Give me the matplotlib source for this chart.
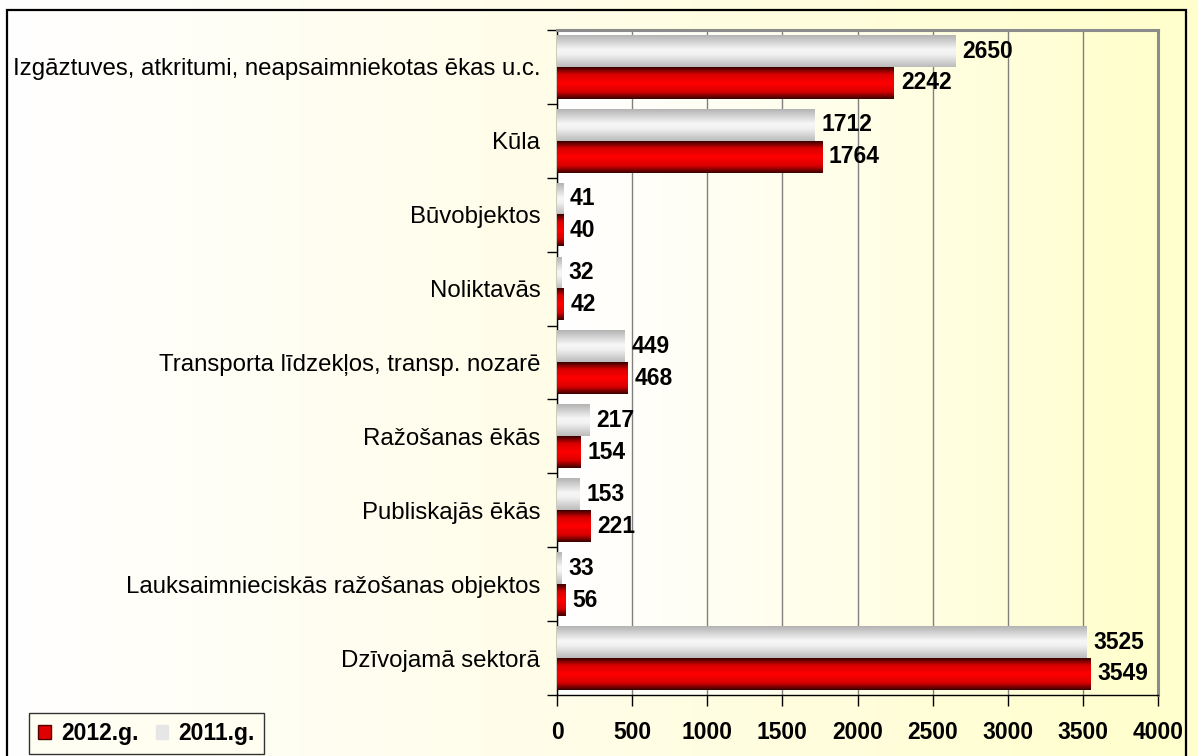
import matplotlib
matplotlib.use("Agg")
import matplotlib.pyplot as plt
import numpy as np
from matplotlib.colors import LinearSegmentedColormap
from matplotlib.patches import Rectangle, Patch

categories = [
    "Izgāztuves, atkritumi, neapsaimniekotas ēkas u.c.",
    "Kūla",
    "Būvobjektos",
    "Noliktavās",
    "Transporta līdzekļos, transp. nozarē",
    "Ražošanas ēkās",
    "Publiskajās ēkās",
    "Lauksaimnieciskās ražošanas objektos",
    "Dzīvojamā sektorā",
]
values_2011 = [2650, 1712, 41, 32, 449, 217, 153, 33, 3525]
values_2012 = [2242, 1764, 40, 42, 468, 154, 221, 56, 3549]
xticks = [0, 500, 1000, 1500, 2000, 2500, 3000, 3500, 4000]
series_names = ["2012.g.", "2011.g."]

plt.rcParams['font.family'] = ['Liberation Sans', 'DejaVu Sans']

W, H = 1198, 756
fig = plt.figure(figsize=(W / 100, H / 100), dpi=100)

# figure background gradient
bg = fig.add_axes([0, 0, 1, 1], zorder=-10)
bg_cmap = LinearSegmentedColormap.from_list("bg", ["#ffffff", "#fffde6", "#ffffcc"])
bg.imshow(np.linspace(0, 1, 256).reshape(1, -1), cmap=bg_cmap, aspect="auto",
          extent=[0, 1, 0, 1])
bg.set_axis_off()
bg.add_patch(Rectangle((7 / W, -0.05), (1186 - 7) / W, 1 - 10 / H + 0.05,
                       transform=bg.transAxes, fill=False, ec="black", lw=1.6))

ax = fig.add_axes([557 / W, 1 - 695 / H, (1158 - 557) / W, (695 - 30) / H])
ax.patch.set_alpha(0)

n = len(categories)
y = np.arange(n)
h = 0.43
bars11 = ax.barh(y - h / 2, values_2011, height=h, color="#e0e0e0", label=series_names[1])
bars12 = ax.barh(y + h / 2, values_2012, height=h, color="#ff0000", label=series_names[0])

red_cmap = LinearSegmentedColormap.from_list(
    "red", [(0, "#3a0000"), (0.22, "#d80000"), (0.5, "#ff0000"), (0.78, "#d80000"), (1, "#3a0000")])
gray_cmap = LinearSegmentedColormap.from_list(
    "gray", [(0, "#b4b4b4"), (0.45, "#f6f6f6"), (0.6, "#f2f2f2"), (1, "#bcbcbc")])
grad = np.linspace(0, 1, 64).reshape(-1, 1)
for bars, cm in ((bars11, gray_cmap), (bars12, red_cmap)):
    for r in bars:
        x0, y0 = r.get_x(), r.get_y()
        w, hh = r.get_width(), r.get_height()
        ax.imshow(grad, cmap=cm, aspect="auto", extent=[x0, x0 + w, y0 + hh, y0],
                  zorder=3, interpolation="bilinear")
        r.set_visible(False)

# background gradient of plot area
pa_cmap = LinearSegmentedColormap.from_list("pa", ["#ffffff", "#fffee8", "#ffffcc"])
ax.imshow(np.linspace(0, 1, 256).reshape(1, -1), cmap=pa_cmap, aspect="auto",
          extent=[0, 4000, n - 0.5, -0.5], zorder=0)

for bars, vals in ((bars11, values_2011), (bars12, values_2012)):
    for r, v in zip(bars, vals):
        ax.annotate(str(v), (r.get_x() + r.get_width(), r.get_y() + r.get_height() / 2),
                    xytext=(5, 0), textcoords="offset points", va="center", ha="left",
                    fontsize=16.5, fontweight="bold", color="black", zorder=5)

ax.set_xlim(0, 4000)
ax.set_ylim(n - 0.5, -0.5)
ax.set_xticks(xticks)
ax.set_xticklabels([str(t) for t in xticks], fontsize=16.5, fontweight="bold")
ax.set_yticks(y)
ax.set_yticklabels(categories, fontsize=17.3)
ax.set_yticks(np.arange(n + 1) - 0.5, minor=True)
ax.tick_params(axis="y", which="major", length=0, pad=12)
ax.tick_params(axis="y", which="minor", length=7, direction="out", width=1)
ax.tick_params(axis="x", which="major", length=8, direction="out", width=1, pad=11)
ax.grid(axis="x", color="#808080", lw=1, zorder=1)
ax.set_axisbelow(True)
for s in ("top", "right"):
    ax.spines[s].set_color("#8c8c8c")
    ax.spines[s].set_linewidth(2.2)
for s in ("left", "bottom"):
    ax.spines[s].set_color("black")
    ax.spines[s].set_linewidth(1)

# legend
handles = [Patch(facecolor="#e00000", edgecolor="#500000"), Patch(facecolor="#e6e6e6", edgecolor="#e6e6e6")]
leg = fig.legend(handles, series_names, loc="lower left",
                 bbox_to_anchor=(29 / W, 1 - 754 / H), ncol=2, frameon=True,
                 prop={"size": 16.5, "weight": "bold"}, handlelength=0.55, handleheight=0.55,
                 handletextpad=0.45, columnspacing=0.75, borderpad=0.4, fancybox=False,
                 borderaxespad=0)
leg.get_frame().set_edgecolor("black")
leg.get_frame().set_linewidth(1)
leg.get_frame().set_facecolor("#fffff0")

fig.savefig("out.png", dpi=100)
